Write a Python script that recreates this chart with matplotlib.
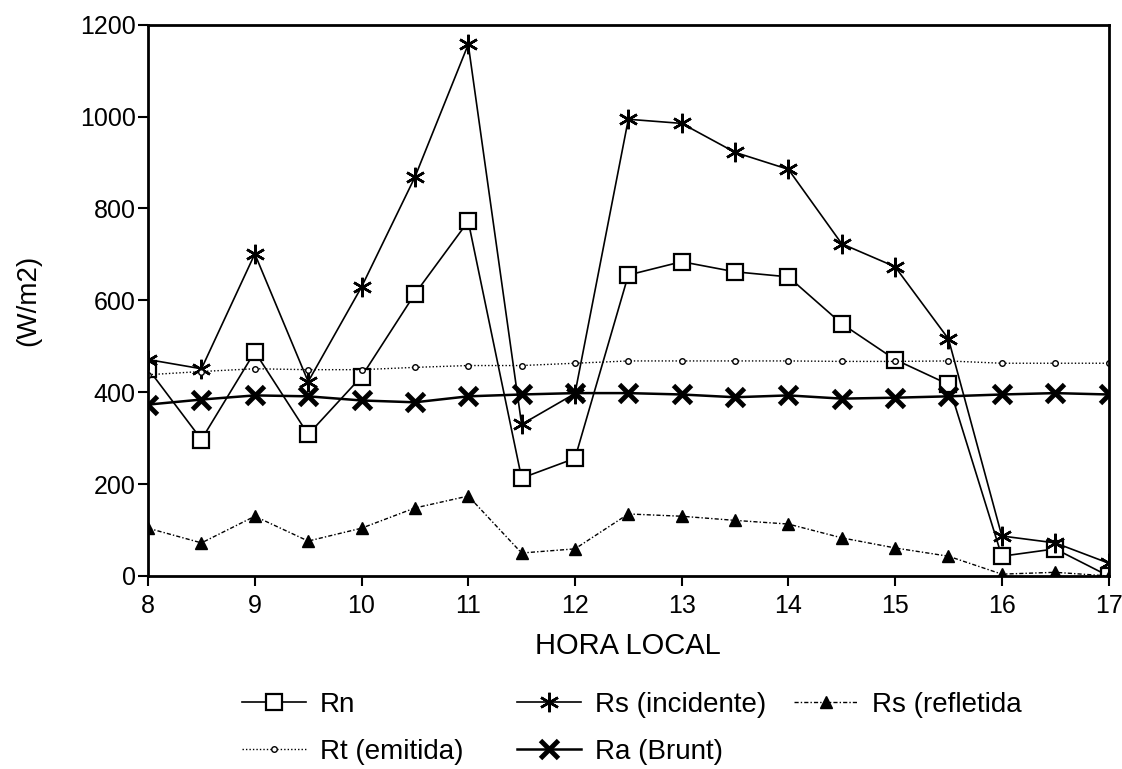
#!/usr/bin/env python3
"""Radiation balance components over the local day."""

import matplotlib

matplotlib.use("Agg")
import matplotlib.pyplot as plt

# half-hour readings from 8 h to 17 h
hours = [8.0, 8.5, 9.0, 9.5, 10.0, 10.5, 11.0, 11.5, 12.0, 12.5,
         13.0, 13.5, 14.0, 14.5, 15.0, 15.5, 16.0, 16.5, 17.0]

rn = [451, 297, 488, 308, 434, 614, 772, 213, 256, 655,
      684, 662, 651, 549, 471, 417, 43, 59, 0]
rs_incidente = [471, 451, 701, 423, 629, 868, 1157, 330, 397, 994,
                985, 922, 885, 723, 673, 516, 87, 72, 28]
rs_refletida = [104, 72, 130, 76, 104, 148, 174, 50, 59, 135,
                130, 121, 113, 83, 61, 43, 4, 8, 0]
rt_emitida = [438, 445, 451, 449, 449, 454, 458, 458, 463, 468,
              468, 468, 468, 467, 467, 468, 463, 463, 463]
ra_brunt = [373, 384, 393, 391, 382, 378, 391, 395, 398, 398,
            395, 389, 393, 386, 388, 391, 395, 398, 395]

x_ticks = [8, 9, 10, 11, 12, 13, 14, 15, 16, 17]
y_ticks = [0, 200, 400, 600, 800, 1000, 1200]

plt.rcParams["font.family"] = ["Liberation Sans", "DejaVu Sans"]

fig = plt.figure(figsize=(11.22, 7.69), dpi=100)
ax = fig.add_axes([0.132, 0.251, 0.856, 0.717])

h_rn, = ax.plot(hours, rn, color="black", linewidth=1.2, marker="s",
                markersize=12, markerfacecolor="white", markeredgewidth=1.6,
                label="Rn")
h_inc, = ax.plot(hours, rs_incidente, color="black", linewidth=1.2,
                 marker=(6, 2, 0), markersize=14, markeredgewidth=1.8,
                 label="Rs (incidente)")
h_ref, = ax.plot(hours, rs_refletida, color="black", linewidth=1.0,
                 linestyle=(0, (3, 1.5, 1, 1.5)), marker="^", markersize=8,
                 label="Rs (refletida")
h_rt, = ax.plot(hours, rt_emitida, color="black", linewidth=1.0,
                linestyle=(0, (1, 1.5)), marker="o", markersize=4,
                markerfacecolor="white", markeredgewidth=1.0,
                label="Rt (emitida)")
h_ra, = ax.plot(hours, ra_brunt, color="black", linewidth=1.8,
                marker="x", markersize=13, markeredgewidth=3.5,
                label="Ra (Brunt)")

ax.set_xlim(8, 17)
ax.set_ylim(0, 1200)
ax.set_xticks(x_ticks)
ax.set_yticks(y_ticks)
ax.tick_params(axis="both", labelsize=18, direction="out", length=7,
               width=1.5, colors="black")
ax.tick_params(axis="x", pad=6)
ax.tick_params(axis="y", pad=2)
for spine in ax.spines.values():
    spine.set_linewidth(2.0)
    spine.set_color("black")

ax.set_xlabel("HORA LOCAL", fontsize=21, labelpad=10)
ax.set_ylabel("(W/m2)", fontsize=20, labelpad=28)

# three legend columns, laid out like a plotter key
legend_style = dict(loc="upper left", frameon=False, fontsize=20,
                    handlelength=2.3, handletextpad=0.5, labelspacing=0.75,
                    borderpad=0.0, borderaxespad=0.0)
columns = [
    ([h_rn, h_rt], 0.216),
    ([h_inc, h_ra], 0.461),
    ([h_ref], 0.708),
]
for handles, x0 in columns:
    fig.legend(handles=handles, labels=[h.get_label() for h in handles],
               bbox_to_anchor=(x0, 0.100), **legend_style)

fig.savefig("out.png", dpi=100, facecolor="white")
